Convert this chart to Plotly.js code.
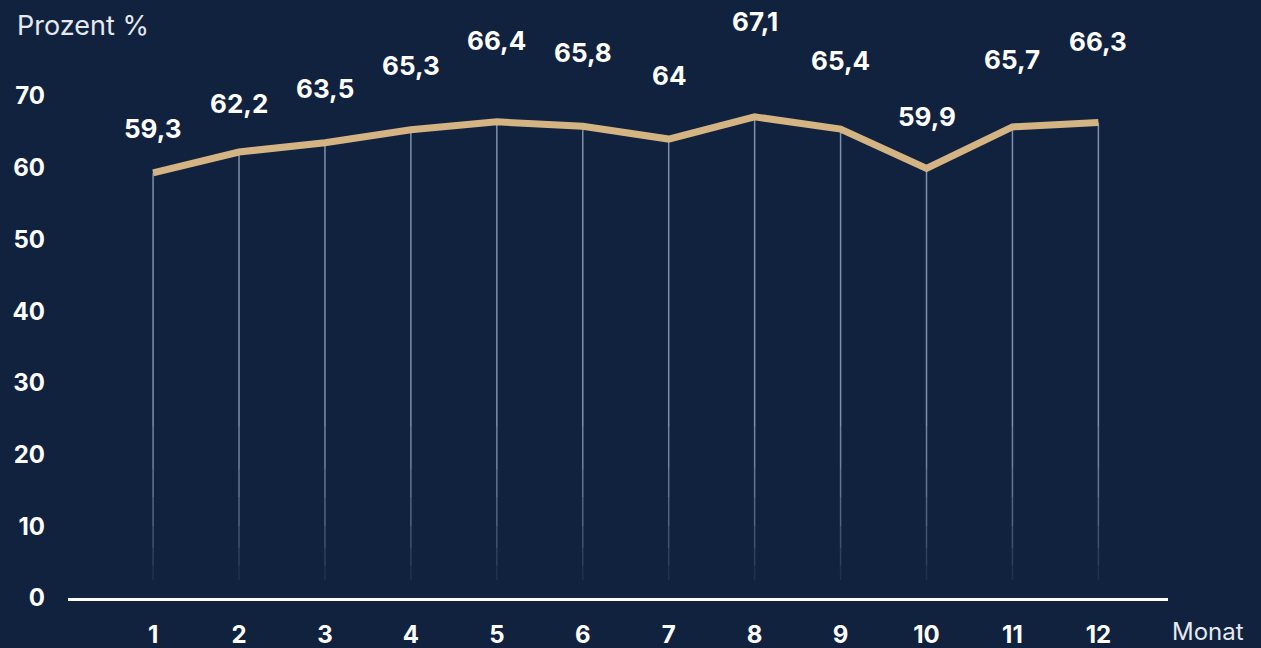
<!DOCTYPE html>
<html>
<head>
<meta charset="utf-8">
<script src="https://cdn.plot.ly/plotly-3.0.1.min.js"></script>
<style>
html,body{margin:0;padding:0;background:#11223f;}
#chart{width:1261px;height:648px;}
</style>
</head>
<body>
<div id="chart"></div>
<script>
// Data
const months = [1,2,3,4,5,6,7,8,9,10,11,12];
const values = [59.3,62.2,63.5,65.3,66.4,65.8,64,67.1,65.4,59.9,65.7,66.3];
const valueLabels = ["59,3","62,2","63,5","65,3","66,4","65,8","64","67,1","65,4","59,9","65,7","66,3"];
const yTicks = [0,10,20,30,40,50,60,70];

// Styling (label offsets in px above each point, as in the reference)
const labelShift = [44,48,54,64,81,74,64,95,69,52,67,81];
const bg = '#11223f';
const gold = '#d4b483';
const dropColor = '#a4b6d2';
const fontFam = 'Inter, "Open Sans", sans-serif';

const traces = [];
// fading vertical drop lines (segments with decreasing opacity toward the bottom)
const segs = [[null,24,0.75],[24,18,0.66],[18,14,0.56],[14,10,0.45],[10,7,0.33],[7,4.5,0.2],[4.5,2.5,0.1]];
segs.forEach(s=>{
  const xs=[], ys=[];
  months.forEach((m,i)=>{
    const top = s[0]===null ? values[i] : s[0];
    xs.push(m,m,null); ys.push(top,s[1],null);
  });
  traces.push({x:xs,y:ys,mode:'lines',type:'scatter',hoverinfo:'skip',
    line:{color:dropColor,width:1.5},opacity:s[2],showlegend:false});
});
// main line
traces.push({x:months,y:values,mode:'lines',type:'scatter',
  line:{color:gold,width:7},showlegend:false,cliponaxis:false});

const annotations = months.map((m,i)=>({
  x:m,y:values[i],xref:'x',yref:'y',text:valueLabels[i],showarrow:false,
  yanchor:'middle',yshift:labelShift[i],
  font:{family:fontFam,size:26,color:'#ffffff',weight:700}
}));
annotations.push({xref:'paper',yref:'paper',x:-0.048,y:1.0,xanchor:'left',yanchor:'middle',
  text:'Prozent %',showarrow:false,yshift:-15,
  font:{family:fontFam,size:27,color:'#e6e9ef'}});
annotations.push({xref:'paper',yref:'paper',x:1.002,y:0,xanchor:'left',yanchor:'middle',
  text:'Monat',showarrow:false,yshift:-33,
  font:{family:fontFam,size:24,color:'#e6e9ef'}});

const layout = {
  width:1261,height:648,
  paper_bgcolor:bg,plot_bgcolor:bg,
  margin:{l:68,r:93,t:10,b:50},
  showlegend:false,
  xaxis:{range:[0.01,12.81],tickvals:months,ticktext:months.map(String),
    showgrid:false,zeroline:false,showline:true,linecolor:'#ffffff',linewidth:3,
    ticks:'',ticklabelstandoff:13,fixedrange:true,
    tickfont:{family:fontFam,size:24,color:'#ffffff',weight:700}},
  yaxis:{range:[0,82],tickvals:yTicks,ticktext:yTicks.map(String),
    showgrid:false,zeroline:false,showline:false,ticks:'',
    ticklabelstandoff:22,fixedrange:true,
    tickfont:{family:fontFam,size:24,color:'#ffffff',weight:700}},
  annotations:annotations
};
Plotly.newPlot('chart',traces,layout,{displayModeBar:false,staticPlot:true});
</script>
</body>
</html>
